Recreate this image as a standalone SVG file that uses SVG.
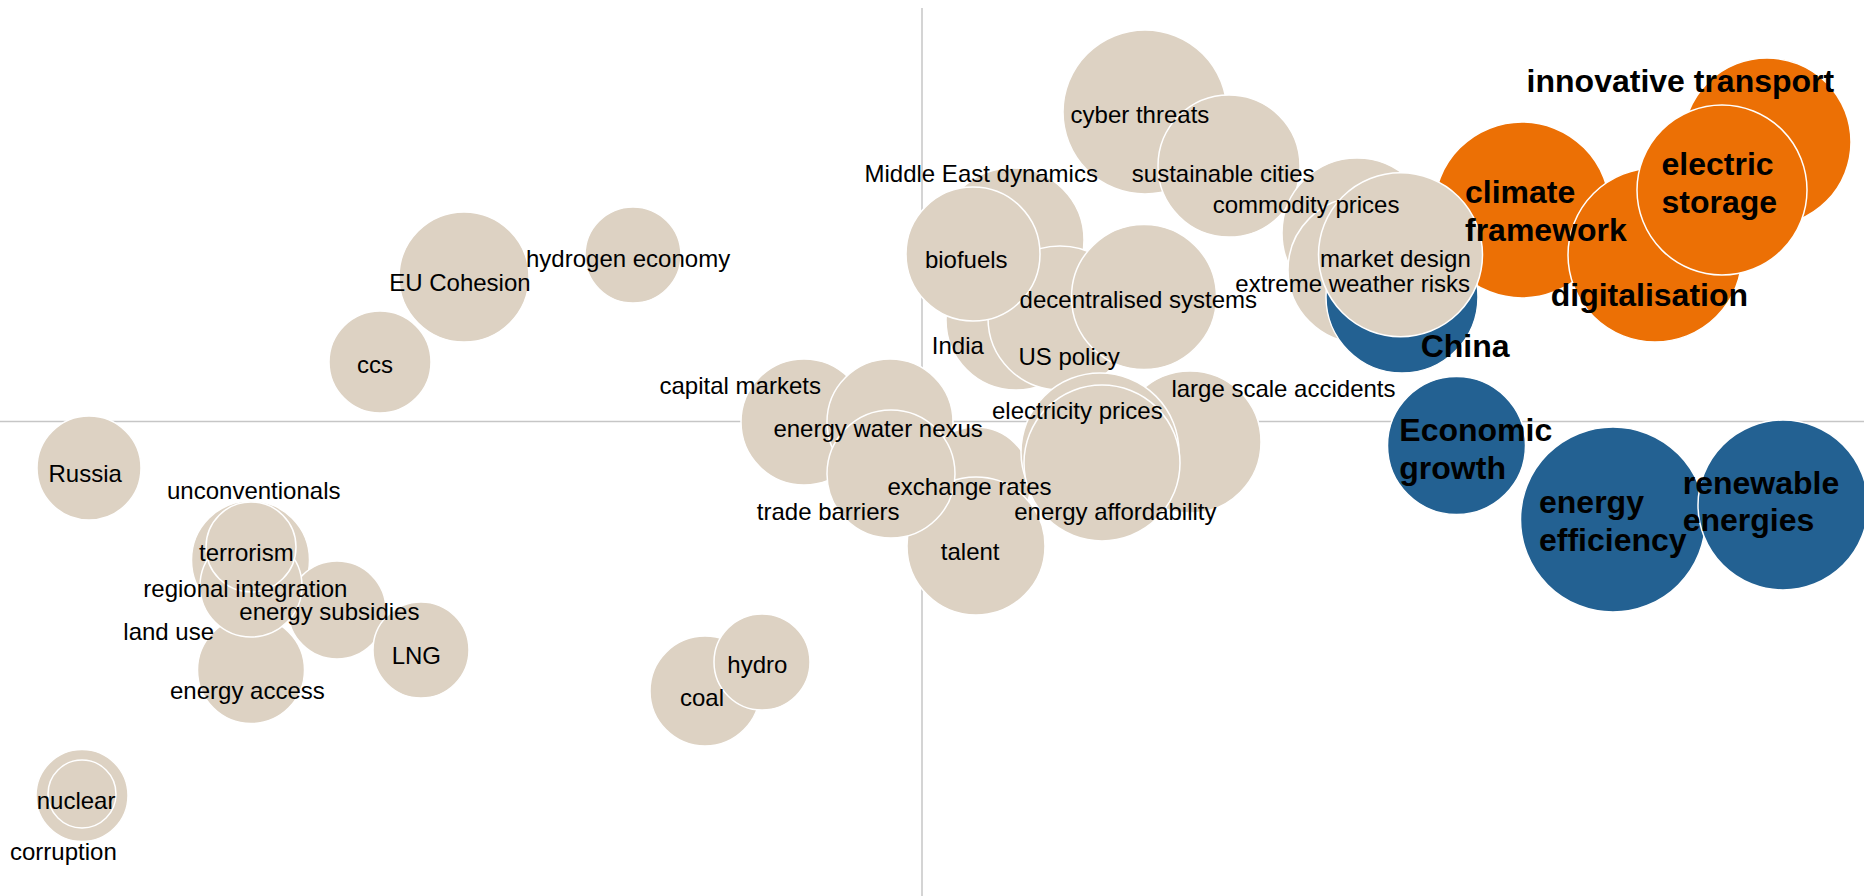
<svg xmlns="http://www.w3.org/2000/svg" width="1864" height="896" viewBox="0 0 1864 896">
<style>
.bg{fill:#ffffff}
.ax{stroke:#c6c6c6;stroke-width:1.5;fill:none}
circle{stroke:#ffffff;stroke-width:1.5}
.b{fill:#ddd2c3}
.o{fill:#ec7005}
.u{fill:#236192}
.t{font-family:"Liberation Sans",Arial,sans-serif;font-size:24px;fill:#000}
.tb{font-family:"Liberation Sans",Arial,sans-serif;font-size:32px;font-weight:bold;fill:#000}
</style>
<rect class="bg" x="0" y="0" width="1864" height="896"/>
<g id="axes">
<line class="ax" x1="0" y1="421.5" x2="1864" y2="421.5"/>
<line class="ax" x1="922" y1="8" x2="922" y2="896"/>
</g>
<g id="connectors"></g>
<g id="bubbles">
<g id="n-eu-cohesion"><circle class="b" cx="464" cy="277" r="65"/></g>
<g id="n-hydrogen-economy"><circle class="b" cx="633" cy="255" r="48"/></g>
<g id="n-ccs"><circle class="b" cx="380" cy="362" r="51"/></g>
<g id="n-russia"><circle class="b" cx="89" cy="468" r="52"/></g>
<g id="n-unconventionals"><circle class="b" cx="250.5" cy="560" r="59"/></g>
<g id="n-energy-access"><circle class="b" cx="251" cy="670" r="53.5"/></g>
<g id="n-energy-subsidies"><circle class="b" cx="337" cy="610" r="49"/></g>
<g id="n-regional-integration"><circle class="b" cx="251" cy="586" r="51"/></g>
<g id="n-terrorism"><circle class="b" cx="251" cy="547" r="45"/></g>
<g id="n-lng"><circle class="b" cx="421" cy="650" r="48"/></g>
<g id="n-corruption"><circle class="b" cx="82" cy="795.5" r="46"/></g>
<g id="n-nuclear"><circle class="b" cx="82" cy="794" r="34"/></g>
<g id="n-coal"><circle class="b" cx="705" cy="691" r="55"/></g>
<g id="n-hydro"><circle class="b" cx="762" cy="662" r="48"/></g>
<g id="n-capital-markets"><circle class="b" cx="804" cy="422" r="63"/></g>
<g id="n-energy-water-nexus"><circle class="b" cx="890" cy="422" r="63"/></g>
<g id="n-exchange-rates"><circle class="b" cx="976" cy="482" r="55"/></g>
<g id="n-talent"><circle class="b" cx="976" cy="546" r="69"/></g>
<g id="n-trade-barriers"><circle class="b" cx="891" cy="474" r="64"/></g>
<g id="n-middle-east"><circle class="b" cx="1012" cy="240" r="72"/></g>
<g id="n-india"><circle class="b" cx="1016" cy="320" r="70"/></g>
<g id="n-us-policy"><circle class="b" cx="1060" cy="318" r="72"/></g>
<g id="n-biofuels"><circle class="b" cx="973" cy="254" r="67"/></g>
<g id="n-decentralised"><circle class="b" cx="1144" cy="297" r="72.5"/></g>
<g id="n-cyber-threats"><circle class="b" cx="1145" cy="112" r="82"/></g>
<g id="n-sustainable-cities"><circle class="b" cx="1229" cy="166" r="71"/></g>
<g id="n-large-scale-accidents"><circle class="b" cx="1190" cy="442" r="71"/></g>
<g id="n-electricity-prices"><circle class="b" cx="1100" cy="452" r="79"/></g>
<g id="n-energy-affordability"><circle class="b" cx="1102" cy="463" r="78"/></g>
<g id="n-commodity-prices"><circle class="b" cx="1357" cy="233" r="75"/></g>
<g id="n-extreme-weather"><circle class="b" cx="1361" cy="270" r="73"/></g>
<g id="n-climate-framework"><circle class="o" cx="1522" cy="210" r="88"/></g>
<g id="n-china"><circle class="u" cx="1402" cy="297" r="76"/></g>
<g id="n-market-design"><circle class="b" cx="1400.5" cy="254.7" r="82"/></g>
<g id="n-digitalisation"><circle class="o" cx="1655" cy="255" r="87"/></g>
<g id="n-innovative-transport"><circle class="o" cx="1767" cy="142" r="84"/></g>
<g id="n-electric-storage"><circle class="o" cx="1722" cy="190" r="85"/></g>
<g id="n-economic-growth"><circle class="u" cx="1456.5" cy="445.5" r="69"/></g>
<g id="n-energy-efficiency"><circle class="u" cx="1613" cy="519.5" r="92.5"/></g>
<g id="n-renewable-energies"><circle class="u" cx="1783" cy="505" r="85"/></g>
</g>
<g id="labels">
<text class="t" x="389.2" y="291">EU Cohesion</text>
<text class="t" x="526" y="267">hydrogen economy</text>
<text class="t" x="357" y="372.7">ccs</text>
<text class="t" x="48.5" y="481.7">Russia</text>
<text class="t" x="167" y="499.3">unconventionals</text>
<text class="t" x="199" y="560.7">terrorism</text>
<text class="t" x="143.3" y="596.7">regional integration</text>
<text class="t" x="239.3" y="620">energy subsidies</text>
<text class="t" x="123.3" y="640">land use</text>
<text class="t" x="391.7" y="664.3">LNG</text>
<text class="t" x="170" y="699.3">energy access</text>
<text class="t" x="36.7" y="809">nuclear</text>
<text class="t" x="10" y="860">corruption</text>
<text class="t" x="680" y="706">coal</text>
<text class="t" x="727.3" y="672.7">hydro</text>
<text class="t" x="659.5" y="393.5">capital markets</text>
<text class="t" x="773.4" y="436.7">energy water nexus</text>
<text class="t" x="887.5" y="495">exchange rates</text>
<text class="t" x="756.8" y="520">trade barriers</text>
<text class="t" x="1014.2" y="520">energy affordability</text>
<text class="t" x="940.8" y="560">talent</text>
<text class="t" x="1070.6" y="122.7">cyber threats</text>
<text class="t" x="864.5" y="181.7">Middle East dynamics</text>
<text class="t" x="1131.8" y="181.7">sustainable cities</text>
<text class="t" x="1212.7" y="213">commodity prices</text>
<text class="t" x="924.9" y="268.3">biofuels</text>
<text class="t" x="1320" y="266.7">market design</text>
<text class="t" x="1235.3" y="291.5">extreme weather risks</text>
<text class="t" x="1019.6" y="308.3">decentralised systems</text>
<text class="t" x="931.8" y="354">India</text>
<text class="t" x="1018.4" y="365">US policy</text>
<text class="t" x="1171.4" y="397">large scale accidents</text>
<text class="t" x="992" y="418.5">electricity prices</text>
<text class="tb" x="1526.6" y="91.7">innovative transport</text>
<text class="tb" x="1661.5" y="175">electric</text>
<text class="tb" x="1661.5" y="213">storage</text>
<text class="tb" x="1465" y="203">climate</text>
<text class="tb" x="1465" y="240.5">framework</text>
<text class="tb" x="1550.7" y="305.7">digitalisation</text>
<text class="tb" x="1420.7" y="357">China</text>
<text class="tb" x="1399.3" y="440.7">Economic</text>
<text class="tb" x="1399.3" y="479.3">growth</text>
<text class="tb" x="1539" y="513.3">energy</text>
<text class="tb" x="1539" y="550.7">efficiency</text>
<text class="tb" x="1682.7" y="493.5">renewable</text>
<text class="tb" x="1682.7" y="530.7">energies</text>
</g>
</svg>
